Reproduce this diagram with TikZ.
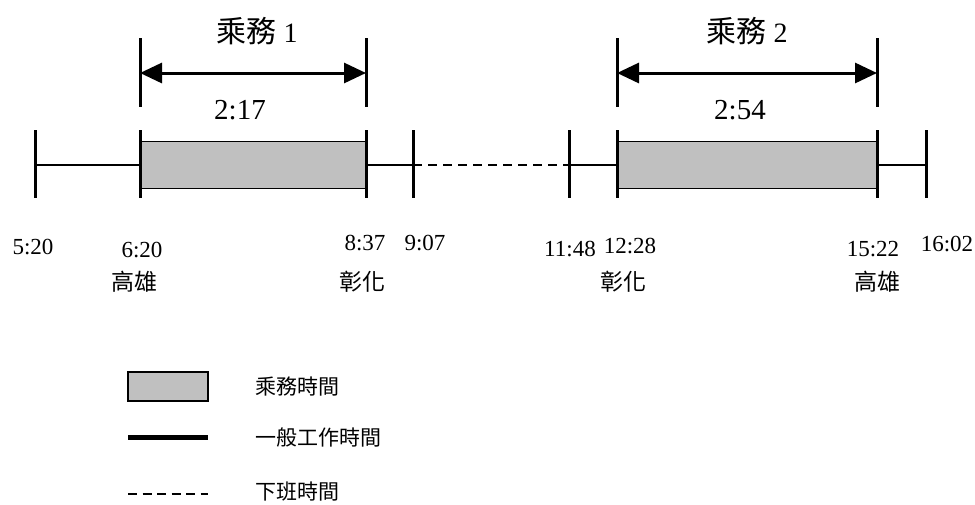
\documentclass[tikz,border=0pt]{standalone}
\usepackage{fontspec}
\setmainfont{Liberation Serif}
\newfontfamily\cjk{Noto Sans CJK TC}
\usetikzlibrary{arrows.meta}
\definecolor{boxgray}{HTML}{C0C0C0}
\begin{document}
\begin{tikzpicture}[x=1pt,y=-1pt,
  tickline/.style={line width=3pt},
  workline/.style={line width=2.6pt},
  offline/.style={line width=2.4pt, dash pattern=on 9pt off 6pt},
  dutybox/.style={draw, line width=1.5pt, fill=boxgray},
  spanarrow/.style={line width=3pt, {Triangle[length=22pt,width=20pt]}-{Triangle[length=22pt,width=20pt]}},
  timelabel/.style={font=\fontsize{23}{26}\selectfont, inner sep=0pt},
  placelabel/.style={font=\cjk\fontsize{23}{26}\selectfont, inner sep=0pt},
  durlabel/.style={font=\fontsize{29}{32}\selectfont, inner sep=0pt},
  titlelabel/.style={font=\fontsize{28}{32}\selectfont, inner sep=0pt},
  legendtext/.style={font=\cjk\fontsize{21}{24}\selectfont, inner sep=0pt, anchor=west}
]
\useasboundingbox (0,0) rectangle (975,504);

% main axis points
\coordinate (t1) at (35,165);
\coordinate (t2) at (140,165);
\coordinate (t3) at (366,165);
\coordinate (t4) at (413,165);
\coordinate (t5) at (569,165);
\coordinate (t6) at (617,165);
\coordinate (t7) at (877,165);
\coordinate (t8) at (926,165);

% horizontal lines
\draw[workline] (t1) -- (t2);
\draw[workline] (t3) -- (t4);
\draw[offline] (t4) -- (t5);
\draw[workline] (t5) -- (t6);
\draw[workline] (t7) -- (t8);

% duty boxes
\node[dutybox, minimum width=226pt, minimum height=47pt, inner sep=0pt, anchor=west] (b1) at (t2) {};
\node[dutybox, minimum width=260pt, minimum height=47pt, inner sep=0pt, anchor=west] (b2) at (t6) {};

% ticks
\foreach \t in {t1,t2,t3,t4,t5,t6,t7,t8}{
  \draw[tickline] ([yshift=35pt]\t) -- ([yshift=-33pt]\t);
}

% upper dimension ticks
\foreach \t in {t2,t3,t6,t7}{
  \draw[tickline] ([yshift=127pt]\t) -- ([yshift=58pt]\t);
}
\coordinate (a1) at (140,73);
\coordinate (a2) at (366,73);
\coordinate (a3) at (617,73);
\coordinate (a4) at (877,73);
\draw[spanarrow] (a1) -- (a2);
\draw[spanarrow] (a3) -- (a4);

% titles
\node[titlelabel] (ttl1) at (257,31) {{\cjk\fontsize{30}{32}\selectfont 乘務} 1};
\node[titlelabel] (ttl2) at (747,31) {{\cjk\fontsize{30}{32}\selectfont 乘務} 2};
\node[durlabel] (d1) at (240,110) {2:17};
\node[durlabel] (d2) at (740,110) {2:54};

% time labels
\node[timelabel] (l1) at (33,247) {5:20};
\node[timelabel] (l2) at (142,250) {6:20};
\node[timelabel] (l3) at (365,243) {8:37};
\node[timelabel] (l4) at (425,243) {9:07};
\node[timelabel] (l5) at (570,249) {11:48};
\node[timelabel] (l6) at (630,246) {12:28};
\node[timelabel] (l7) at (873,249) {15:22};
\node[timelabel] (l8) at (947,244) {16:02};

% place labels
\node[placelabel] (p1) at (134,282) {高雄};
\node[placelabel] (p2) at (362,282) {彰化};
\node[placelabel] (p3) at (623,282) {彰化};
\node[placelabel] (p4) at (877,282) {高雄};

% legend
\node[dutybox, minimum width=80pt, minimum height=29pt, inner sep=0pt] (lg1) at (168,386.5) {};
\coordinate (lg2a) at (128,437);
\coordinate (lg2b) at (208,437);
\draw[line width=5pt] (lg2a) -- (lg2b);
\coordinate (lg3a) at (128,494);
\coordinate (lg3b) at (208,494);
\draw[line width=2.6pt, dash pattern=on 9pt off 5.5pt] (lg3a) -- (lg3b);
\node[legendtext] (lt1) at (255,387) {乘務時間};
\node[legendtext] (lt2) at (255,438) {一般工作時間};
\node[legendtext] (lt3) at (255,492) {下班時間};
\end{tikzpicture}
\end{document}
